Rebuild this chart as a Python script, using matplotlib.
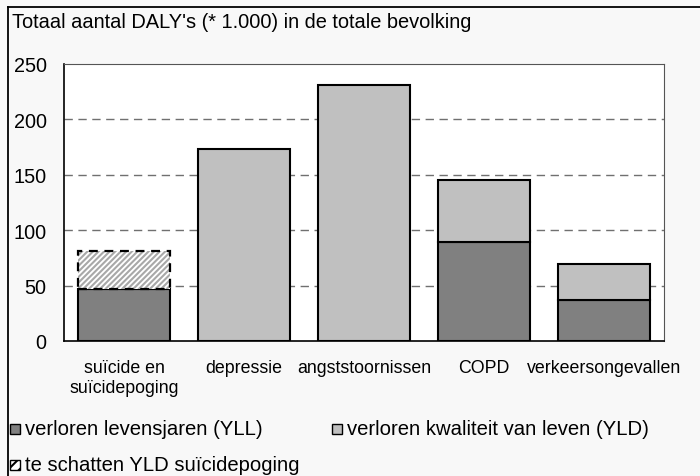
import numpy as np
import matplotlib
matplotlib.use('Agg')
import matplotlib.pyplot as plt
from matplotlib.patches import Rectangle
from matplotlib.lines import Line2D

# data (DALY's * 1.000)
categories = ['suïcide en\nsuïcidepoging', 'depressie', 'angststoornissen', 'COPD', 'verkeersongevallen']
yll = [47, 0, 0, 89, 37]
yld = [0, 173, 231, 56, 32.5]
yld_estimate = [34, 0, 0, 0, 0]

plt.rcParams['font.family'] = ['Liberation Sans', 'DejaVu Sans']
plt.rcParams['font.size'] = 14
plt.rcParams['hatch.linewidth'] = 1.5

dark = '#808080'
light = '#c0c0c0'

fig = plt.figure(figsize=(7, 4.77), dpi=100, facecolor='#f8f8f8')
ax = fig.add_axes([64/700, 1 - 342/477, 600/700, 277/477])
ax.set_facecolor('white')

x = np.arange(len(categories))
w = 0.77
yll = np.array(yll)
yld = np.array(yld)
est = np.array(yld_estimate)

ax.bar(x, yll, w, color=dark, edgecolor='black', linewidth=1.5, zorder=3)
ax.bar(x, yld, w, bottom=yll, color=light, edgecolor='black', linewidth=1.5, zorder=3)
# estimated part: hatched, dashed outline
m = est > 0
ax.bar(x[m], est[m], w, bottom=yll[m], color='white', edgecolor='#a8a8a8', hatch='//////', linewidth=0, zorder=3)
ax.bar(x[m], est[m], w, bottom=yll[m], fill=False, edgecolor='black', linestyle=(0, (4, 3)), linewidth=1.6, zorder=4)

ax.set_xlim(-0.5, len(categories) - 0.5)
ax.set_ylim(0, 250)
ax.set_yticks([0, 50, 100, 150, 200, 250])
ax.set_xticks(x)
ax.set_xticklabels(categories, fontsize=12.8, linespacing=1.2)
ax.tick_params(axis='both', length=0)
ax.tick_params(axis='y', pad=12.5, labelsize=14.3)
ax.tick_params(axis='x', pad=13)
for g in [50, 100, 150, 200]:
    ax.axhline(g, color='#707070', linestyle=(0, (6, 4)), linewidth=1, zorder=1)

ax.spines['left'].set_color('black')
ax.spines['bottom'].set_color('black')
ax.spines['left'].set_linewidth(1.2)
ax.spines['bottom'].set_linewidth(1.2)
ax.spines['top'].set_color('#555555')
ax.spines['right'].set_color('#555555')

# outer frame (top and left edges visible)
fig.add_artist(Line2D([8/700, 1], [1 - 8/477, 1 - 8/477], color='black', linewidth=1.3, transform=fig.transFigure))
fig.add_artist(Line2D([8/700, 8/700], [0, 1 - 8/477], color='black', linewidth=1.3, transform=fig.transFigure))

fig.text(12/700, 1 - 22/477, "Totaal aantal DALY's (* 1.000) in de totale bevolking", va='center', ha='left', fontsize=14.4)

# legend
def legend_item(px, py, label, fc, hatch=None):
    s = 10
    r = Rectangle((px/700, 1 - (py + s/2)/477), s/700, s/477, transform=fig.transFigure,
                  facecolor=fc, edgecolor='black', linewidth=1, hatch=hatch)
    fig.add_artist(r)
    fig.text((px + 15)/700, 1 - py/477, label, va='center', ha='left', fontsize=14.6)

legend_item(10, 430, 'verloren levensjaren (YLL)', dark)
legend_item(332, 430, 'verloren kwaliteit van leven (YLD)', light)
legend_item(10, 466, 'te schatten YLD suïcidepoging', 'white', hatch='///')

fig.savefig('out.png', dpi=100, facecolor=fig.get_facecolor())
